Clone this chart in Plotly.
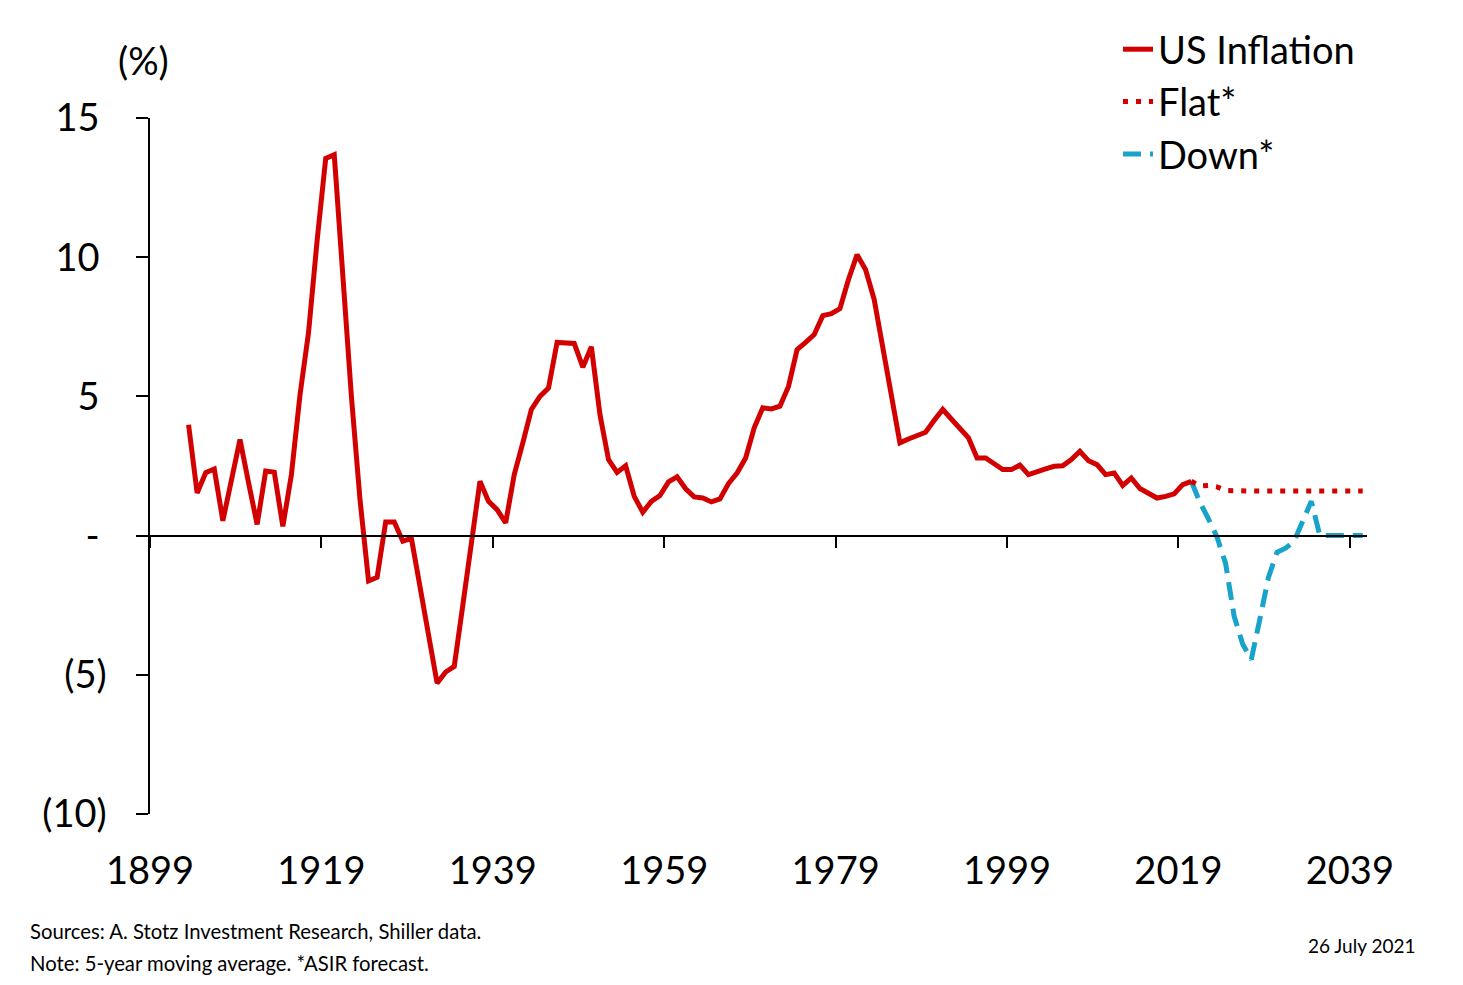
import plotly.graph_objects as go

# ---------------- data ----------------
years = list(range(1903, 2021))
inflation = [
    3.98, 1.53, 2.26, 2.39, 0.53, 2.1, 3.45, 1.9, 0.4, 2.32,      # 1903-1912
    2.28, 0.33, 2.19, 5.05, 7.3, 10.6, 13.55, 13.68, 9.3, 5.0,    # 1913-1922
    1.3, -1.63, -1.5, 0.49, 0.49, -0.2, -0.1, -1.9, -3.65, -5.3,  # 1923-1932
    -4.9, -4.7, -2.5, -0.4, 1.95, 1.23, 0.93, 0.46, 2.19, 3.33,   # 1933-1942
    4.53, 5.0, 5.3, 6.94, 6.92, 6.90, 6.05, 6.78, 4.35, 2.73,     # 1943-1952
    2.27, 2.51, 1.41, 0.84, 1.23, 1.44, 1.93, 2.11, 1.68, 1.39,   # 1953-1962
    1.35, 1.21, 1.32, 1.87, 2.25, 2.79, 3.87, 4.59, 4.55, 4.65,   # 1963-1972
    5.36, 6.68, 6.94, 7.22, 7.90, 7.97, 8.15, 9.2, 10.09, 9.55,   # 1973-1982
    8.48, 6.8, 5.0, 3.33, 3.47, 3.57, 3.71, 4.14, 4.53, 4.19,     # 1983-1992
    3.87, 3.51, 2.79, 2.79, 2.58, 2.37, 2.37, 2.53, 2.19, 2.31,   # 1993-2002
    2.40, 2.49, 2.51, 2.73, 3.03, 2.69, 2.55, 2.19, 2.25, 1.80,   # 2003-2012
    2.07, 1.69, 1.53, 1.35, 1.41, 1.50, 1.83, 1.95,               # 2013-2020
]
forecast_years = list(range(2020, 2041))
flat = [1.95, 1.78, 1.80, 1.75, 1.62, 1.60, 1.60, 1.60, 1.60, 1.60, 1.60,
        1.60, 1.60, 1.60, 1.60, 1.60, 1.60, 1.60, 1.60, 1.60, 1.60]
down = [1.95, 1.2, 0.6, -0.05, -1.0, -2.9, -3.9, -4.45, -3.0, -1.5, -0.6,
        -0.45, -0.2, 0.5, 1.23, 0.0, 0.0, 0.0, 0.0, 0.0, 0.0]

x_tick_years = [1899, 1919, 1939, 1959, 1979, 1999, 2019, 2039]
y_tick_vals = [-10, -5, 0, 5, 10, 15]
y_tick_text = ["(10)", "(5)", "-\u2009\u200a", "5\u2009\u200a", "10\u2009\u200a", "15\u2009\u200a"]

series_names = ["US Inflation", "Flat*", "Down*"]
RED = "#D20000"
BLUE = "#18A3CA"
FONT = "Lato"

# data points sit at mid-year on the time axis
def mid(ys):
    return [y + 0.5 for y in ys]

X_MIN, X_MAX = 1899, 2041
Y_MIN, Y_MAX = -10, 15

fig = go.Figure()
fig.add_trace(go.Scatter(
    x=mid(forecast_years), y=down, mode="lines", name=series_names[2],
    line=dict(color=BLUE, width=5, dash="18px,9px"),
))
fig.add_trace(go.Scatter(
    x=mid(forecast_years), y=flat, mode="lines", name=series_names[1],
    line=dict(color=RED, width=5, dash="5px,8px"),
))
fig.add_trace(go.Scatter(
    x=mid(years), y=inflation, mode="lines", name=series_names[0],
    line=dict(color=RED, width=5),
))

fig.update_layout(
    width=1463, height=985,
    margin=dict(l=149.5, r=95.85, t=118, b=171, autoexpand=False),
    paper_bgcolor="white", plot_bgcolor="white",
    font=dict(family=FONT, size=38, color="black"),
    showlegend=True,
    legend=dict(
        x=(1118 - 149.5) / 1217.65, xanchor="left",
        y=1 + (118 - 18) / 696, yanchor="top",
        traceorder="reversed",
        font=dict(family=FONT, size=38, color="black"),
        bgcolor="rgba(0,0,0,0)", borderwidth=0,
        itemwidth=30,
    ),
    xaxis=dict(
        range=[X_MIN, X_MAX],
        tickvals=x_tick_years,
        ticktext=[str(v) for v in x_tick_years],
        showgrid=False, zeroline=False,
        showline=True, linecolor="black", linewidth=1.5,
        ticks="outside", ticklen=12, tickwidth=1.5, tickcolor="black",
        anchor="free", position=(0 - Y_MIN) / (Y_MAX - Y_MIN),
        ticklabelstandoff=290,
        tickfont=dict(family=FONT, size=38, color="black"),
    ),
    yaxis=dict(
        range=[Y_MIN, Y_MAX],
        tickvals=y_tick_vals, ticktext=y_tick_text,
        showgrid=False, zeroline=False,
        showline=True, linecolor="black", linewidth=1.5,
        ticks="outside", ticklen=12, tickwidth=1.5, tickcolor="black",
        ticklabelstandoff=22,
        tickfont=dict(family=FONT, size=38, color="black"),
    ),
)

fig.add_annotation(
    text="(%)", xref="paper", yref="paper",
    x=(143 - 149.5) / 1217.65, y=1 + (118 - 60) / 696,
    xanchor="center", yanchor="middle", showarrow=False,
    font=dict(family=FONT, size=38, color="black"),
)
fig.add_annotation(
    text="Sources: A. Stotz Investment Research, Shiller data.",
    xref="paper", yref="paper",
    x=(27 - 149.5) / 1217.65, y=-(931 - 814) / 696,
    xanchor="left", yanchor="middle", showarrow=False,
    font=dict(family=FONT, size=20.3, color="black"),
)
fig.add_annotation(
    text="Note: 5-year moving average. *ASIR forecast.",
    xref="paper", yref="paper",
    x=(27 - 149.5) / 1217.65, y=-(963 - 814) / 696,
    xanchor="left", yanchor="middle", showarrow=False,
    font=dict(family=FONT, size=20.3, color="black"),
)
fig.add_annotation(
    text="26 July 2021",
    xref="paper", yref="paper",
    x=(1417 - 149.5) / 1217.65, y=-(945 - 814) / 696,
    xanchor="right", yanchor="middle", showarrow=False,
    font=dict(family=FONT, size=19, color="black"),
)

fig.write_html("out.html", config={"displayModeBar": False},
               post_script="document.body.style.margin='0';")
